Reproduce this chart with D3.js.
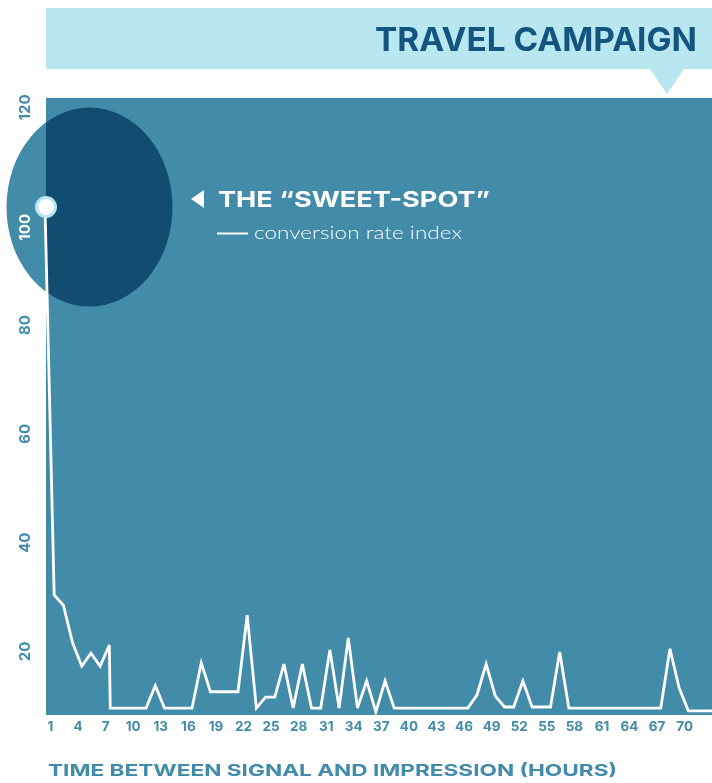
<!DOCTYPE html>
<html>
<head>
<meta charset="utf-8">
<script src="https://cdn.jsdelivr.net/npm/d3@7"></script>
<style>
  body { margin: 0; background: #fff; }
  svg { display: block; }
  text { font-family: "Inter", "Lato", sans-serif; }
</style>
</head>
<body>
<svg id="chart"></svg>
<script>
// hours since signal (8.1 = the extra point where the line drops straight down)
const hours = [1, 2, 3, 4, 5, 6, 7, 8, 8.1, 9, 10, 11, 12, 13, 14, 15, 16, 17, 18, 19, 20,
  21, 22, 23, 24, 25, 26, 27, 28, 29, 30, 31, 32, 33, 34, 35, 36, 37, 38, 39, 40,
  41, 42, 43, 44, 45, 46, 47, 48, 49, 50, 51, 52, 53, 54, 55, 56, 57, 58, 59, 60,
  61, 62, 63, 64, 65, 66, 67, 68, 69, 70, 71, 72, 73, 74];
// conversion rate index
const conversion = [101.7, 30.4, 28.5, 21.6, 17.3, 19.7, 17.3, 21.2, 9.6, 9.6, 9.6, 9.6, 9.6, 13.7, 9.6, 9.6, 9.6, 9.6, 17.9, 12.6, 12.6,
  12.6, 12.6, 26.7, 9.6, 11.6, 11.6, 17.7, 9.6, 17.7, 9.6, 9.6, 20.3, 9.6, 22.5, 9.6, 14.6, 8.9, 14.6, 9.6, 9.6,
  9.6, 9.6, 9.6, 9.6, 9.6, 9.6, 9.6, 12.0, 17.7, 11.8, 9.8, 9.8, 14.6, 9.8, 9.8, 9.8, 19.9, 9.6, 9.6, 9.6,
  9.6, 9.6, 9.6, 9.6, 9.6, 9.6, 9.6, 9.6, 20.5, 13.3, 9.1, 9.1, 9.1, 9.1];
const xTickLabels = [1, 4, 7, 10, 13, 16, 19, 22, 25, 28, 31, 34, 37, 40, 43, 46, 49, 52, 55, 58, 61, 64, 67, 70];
const yTickLabels = [20, 40, 60, 80, 100, 120];

const W = 712, H = 783;
const plot = {left: 46, top: 98, right: 712, bottom: 715};
const blue = "#428ba9";

const svg = d3.select("#chart").attr("width", W).attr("height", H);

const x = d3.scaleLinear().domain([1, 74]).range([45, 715.9]);
const y = d3.scaleLinear().domain([0, 120]).range([760.3, 107.5]);

// title banner
svg.append("rect")
  .attr("x", 46).attr("y", 8).attr("width", W - 46).attr("height", 61)
  .attr("fill", "#b8e7f2");
svg.append("path")
  .attr("d", "M650,69 L684,69 L667,94 Z")
  .attr("fill", "#b8e7f2");
svg.append("text")
  .attr("x", 697).attr("y", 51)
  .attr("text-anchor", "end")
  .attr("textLength", 322).attr("lengthAdjust", "spacingAndGlyphs")
  .style("font-size", "33px").style("font-weight", 700)
  .attr("fill", "#14557f")
  .text("TRAVEL CAMPAIGN");

// plot background
svg.append("rect")
  .attr("x", plot.left).attr("y", plot.top)
  .attr("width", plot.right - plot.left).attr("height", plot.bottom - plot.top)
  .attr("fill", blue);

// sweet spot highlight (multiplied over background)
const spot = {cx: 89.5, cy: y(conversion[0]), rx: 83, ry: 99.5};
svg.append("ellipse")
  .attr("cx", spot.cx).attr("cy", spot.cy)
  .attr("rx", spot.rx).attr("ry", spot.ry)
  .attr("fill", blue)
  .style("mix-blend-mode", "multiply");

const inSpot = (px, py) => ((px - spot.cx) / spot.rx) ** 2 + ((py - spot.cy) / spot.ry) ** 2 < 1;

// y labels, rotated; the one inside the spot is white and pushed below the marker
svg.append("g").selectAll("text")
  .data(yTickLabels)
  .join("text")
  .attr("transform", d => `translate(24, ${y(d) + (inSpot(24, y(d)) ? 11 : 0)}) rotate(-90)`)
  .attr("text-anchor", "middle")
  .attr("dominant-baseline", "central")
  .style("font-size", "15px").style("font-weight", 700)
  .attr("fill", d => inSpot(24, y(d)) ? "#fff" : blue)
  .text(d => d);

// x axis labels
const xAxis = d3.axisBottom(x).tickValues(xTickLabels).tickSize(0).tickPadding(6);
const xAxisG = svg.append("g")
  .attr("transform", `translate(5, ${plot.bottom})`)
  .call(xAxis);
xAxisG.select(".domain").remove();
xAxisG.selectAll("text")
  .style("font-family", "Inter, Lato, sans-serif")
  .style("font-size", "13.5px").style("font-weight", 700)
  .attr("fill", blue);

svg.append("text")
  .attr("x", 48).attr("y", 776)
  .attr("textLength", 569).attr("lengthAdjust", "spacingAndGlyphs")
  .style("font-size", "16.5px").style("font-weight", 700)
  .attr("fill", blue)
  .text("TIME BETWEEN SIGNAL AND IMPRESSION (HOURS)");

// the line
const line = d3.line()
  .x((d, i) => x(hours[i]))
  .y(d => y(d));

svg.append("path")
  .datum(conversion)
  .attr("d", line)
  .attr("fill", "none")
  .attr("stroke", "#fff")
  .attr("stroke-width", 2.8)
  .attr("stroke-linejoin", "miter");

// marker on the first point
svg.append("circle")
  .attr("cx", x(hours[0]) + 1).attr("cy", y(conversion[0]))
  .attr("r", 9.5)
  .attr("fill", "#fff")
  .attr("stroke", "#b8e7f2")
  .attr("stroke-width", 3);

// annotation
svg.append("path")
  .attr("d", "M191,199 L204,190 L204,208 Z")
  .attr("fill", "#fff");
svg.append("text")
  .attr("x", 218).attr("y", 207)
  .attr("textLength", 272).attr("lengthAdjust", "spacingAndGlyphs")
  .style("font-size", "22px").style("font-weight", 700)
  .attr("fill", "#fff")
  .text("THE \u201CSWEET-SPOT\u201D");
svg.append("line")
  .attr("x1", 217).attr("x2", 248)
  .attr("y1", 233.5).attr("y2", 233.5)
  .attr("stroke", "#fff").attr("stroke-width", 2);
svg.append("text")
  .attr("x", 254).attr("y", 239)
  .attr("textLength", 208).attr("lengthAdjust", "spacingAndGlyphs")
  .style("font-family", "Lato, sans-serif")
  .style("font-size", "18px").style("font-weight", 300)
  .attr("fill", "#fff")
  .text("conversion rate index");
</script>
</body>
</html>
